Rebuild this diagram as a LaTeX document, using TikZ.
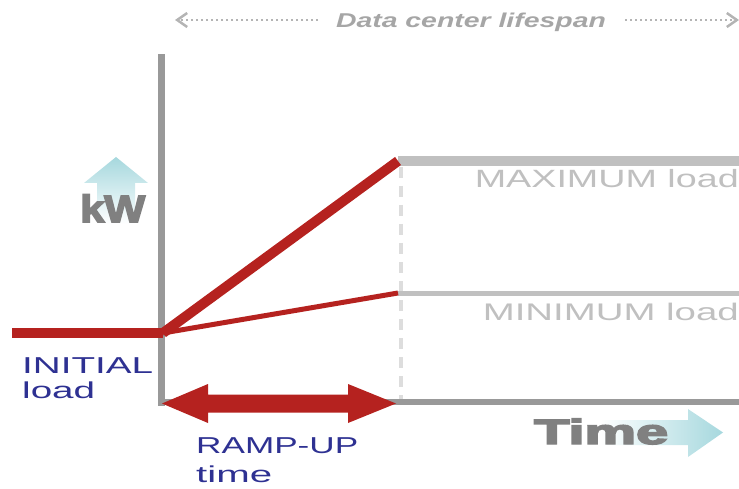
\documentclass[tikz,border=0pt]{standalone}
\usepackage{fontspec}
\setmainfont{Liberation Sans}
\newfontfamily\heavyfont{Liberation Sans}[BoldFeatures={FakeBold=4}]
\usetikzlibrary{arrows.meta}
\definecolor{axisgray}{HTML}{999999}
\definecolor{loadred}{HTML}{B5221F}
\definecolor{navytext}{HTML}{2E3192}
\definecolor{levelgray}{HTML}{C0C0C0}
\definecolor{dashgray}{HTML}{DDDDDD}
\definecolor{toptext}{HTML}{A6A6A6}
\definecolor{dotgray}{HTML}{B4B4B4}
\definecolor{bigtext}{HTML}{808080}
\definecolor{arrowcyan}{HTML}{A6D8DE}
\tikzset{
  axisline/.style={draw=axisgray, line cap=rect},
  redline/.style={draw=loadred},
  levelline/.style={draw=levelgray},
  navylabel/.style={text=navytext, inner sep=0pt, font=\fontsize{23}{23}\selectfont},
  graylabel/.style={text=levelgray, inner sep=0pt, font=\fontsize{25}{25}\selectfont},
  biglabel/.style={text=bigtext, inner sep=0pt},
  dotarrow/.style={draw=dotgray, line width=2pt, dash pattern=on 2pt off 3pt, -{Straight Barb[length=10pt,width=14pt,line width=2.5pt]}}
}
\begin{document}
\begin{tikzpicture}[x=1pt,y=-1pt]
\path[use as bounding box] (0,0) rectangle (739,489);

% coordinates
\coordinate (origin) at (161.5,402);
\coordinate (ytop) at (161.5,58);
\coordinate (xend) at (739,402);
\coordinate (start) at (163,333);
\coordinate (initleft) at (12,333);
\coordinate (maxc) at (398,161);
\coordinate (minc) at (398,293);
\coordinate (maxend) at (739,161);
\coordinate (minend) at (739,293);
\coordinate (dtop) at (401,167);
\coordinate (dbot) at (401,399);

% kW up arrow (gradient)
\shade[top color=arrowcyan, bottom color=white]
  (116,157) -- (148,183) -- (135,183) -- (135,224) -- (97,224) -- (97,183) -- (84,183) -- cycle;
% Time right arrow (gradient)
\shade[left color=white, right color=arrowcyan]
  (600,420) -- (688,420) -- (688,409) -- (723,432.5) -- (688,457) -- (688,445) -- (600,445) -- cycle;

% axes
\draw[axisline, line width=7pt] (origin) -- (ytop);
\draw[axisline, line width=6pt] (origin) -- (xend);

% dashed vertical
\draw[draw=dashgray, line width=4pt, dash pattern=on 11pt off 8pt] (dtop) -- (dbot);

% level lines
\draw[levelline, line width=10pt] (maxc) -- (maxend);
\draw[levelline, line width=5pt] (minc) -- (minend);

% red load lines
\draw[redline, line width=10pt] (initleft) -- (start);
\draw[redline, line width=10pt] (start) -- (maxc);
\draw[redline, line width=5pt] (start) -- (minc);

% ramp-up double arrow
\fill[loadred] (162,403.5) -- (208,384) -- (208,394.5) -- (348,394.5) -- (348,384) -- (396,403.5)
  -- (348,423) -- (348,412.5) -- (208,412.5) -- (208,423) -- cycle;

% top dotted arrows and title
\node[text=toptext, inner sep=0pt, anchor=base, font=\fontsize{20}{20}\selectfont\bfseries\itshape] (title) at (471,28)
  {\resizebox{270pt}{\height}{Data center lifespan}};
\coordinate (ls) at (318,20);
\coordinate (lt) at (175,20);
\coordinate (rs) at (625,20);
\coordinate (rt) at (739,20);
\draw[dotarrow] (ls) -- (lt);
\draw[dotarrow] (rs) -- (rt);

% big labels
\node[biglabel, anchor=base west, font=\fontsize{38}{38}\selectfont\heavyfont\bfseries] (kw) at (80,222)
  {\resizebox{65pt}{\height}{kW}};
\node[biglabel, anchor=base west, font=\fontsize{35}{35}\selectfont\heavyfont\bfseries] (time) at (534,444)
  {\resizebox{134pt}{\height}{Time}};

% level labels
\node[graylabel, anchor=base east] (maxl) at (739,188) {\resizebox{264pt}{\height}{MAXIMUM load}};
\node[graylabel, anchor=base east, font=\fontsize{24}{24}\selectfont] (minl) at (739,320) {\resizebox{256pt}{\height}{MINIMUM load}};

% navy labels
\node[navylabel, anchor=base west] (init1) at (22,373) {\resizebox{131pt}{\height}{INITIAL}};
\node[navylabel, anchor=base west] (init2) at (22,398) {\resizebox{73pt}{\height}{load}};
\node[navylabel, anchor=base west] (ramp1) at (196,453) {\resizebox{162pt}{\height}{RAMP-UP}};
\node[navylabel, anchor=base west] (ramp2) at (196,482) {\resizebox{76pt}{\height}{time}};
\end{tikzpicture}
\end{document}
